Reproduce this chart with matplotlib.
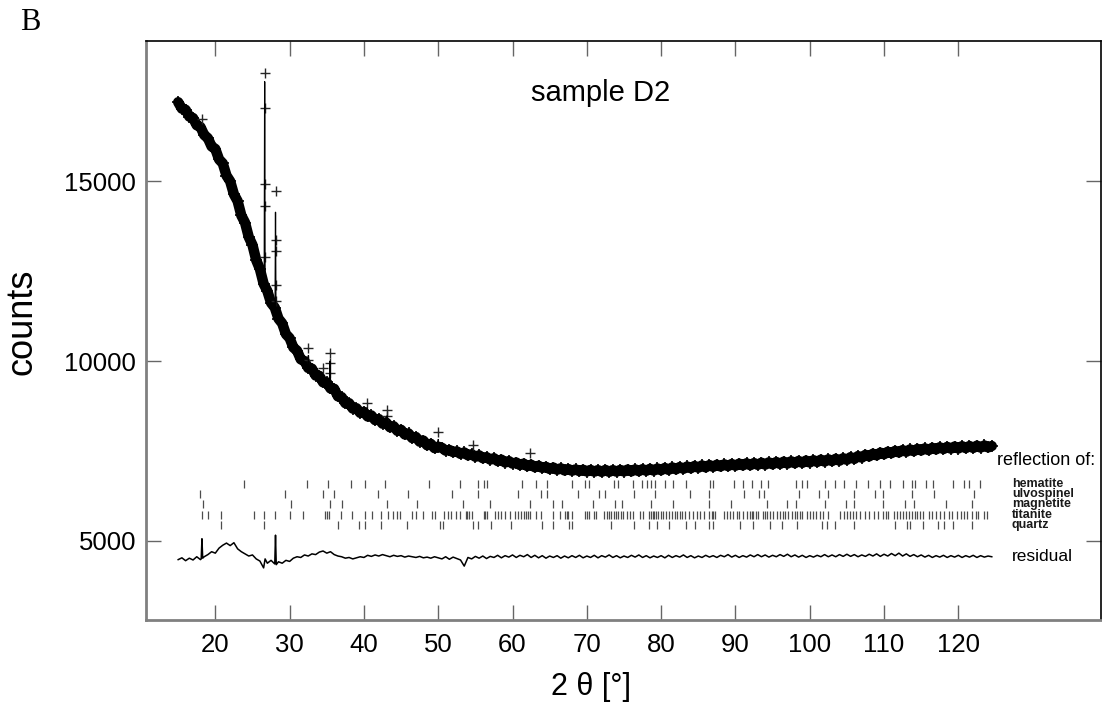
import numpy as np
import matplotlib
matplotlib.use("Agg")
import matplotlib.pyplot as plt

# ---------------- data ----------------
obs_2theta = [15.0, 15.5, 16.0, 16.5, 17.0, 17.5, 18.0, 18.5, 19.0, 19.5,
              20.0, 20.5, 21.0, 21.5, 22.0, 22.5, 23.0, 23.5, 24.0, 24.5,
              25.0, 25.5, 26.0, 26.5, 27.0, 27.5, 28.0, 28.5, 29.0, 29.5,
              30.0, 30.5, 31.0, 31.5, 32.0, 32.5, 33.0, 33.5, 34.0, 34.5,
              35.0, 35.5, 36.0, 36.5, 37.0, 37.5, 38.0, 38.5, 39.0, 39.5,
              40.0, 40.5, 41.0, 41.5, 42.0, 42.5, 43.0, 43.5, 44.0, 44.5,
              45.0, 45.5, 46.0, 46.5, 47.0, 47.5, 48.0, 48.5, 49.0, 49.5,
              50.0, 50.5, 51.0, 51.5, 52.0, 52.5, 53.0, 53.5, 54.0, 54.5,
              55.0, 55.5, 56.0, 56.5, 57.0, 57.5, 58.0, 58.5, 59.0, 59.5,
              60.0, 60.5, 61.0, 61.5, 62.0, 62.5, 63.0, 63.5, 64.0, 64.5,
              65.0, 65.5, 66.0, 66.5, 67.0, 67.5, 68.0, 68.5, 69.0, 69.5,
              70.0, 70.5, 71.0, 71.5, 72.0, 72.5, 73.0, 73.5, 74.0, 74.5,
              75.0, 75.5, 76.0, 76.5, 77.0, 77.5, 78.0, 78.5, 79.0, 79.5,
              80.0, 80.5, 81.0, 81.5, 82.0, 82.5, 83.0, 83.5, 84.0, 84.5,
              85.0, 85.5, 86.0, 86.5, 87.0, 87.5, 88.0, 88.5, 89.0, 89.5,
              90.0, 90.5, 91.0, 91.5, 92.0, 92.5, 93.0, 93.5, 94.0, 94.5,
              95.0, 95.5, 96.0, 96.5, 97.0, 97.5, 98.0, 98.5, 99.0, 99.5,
              100.0, 100.5, 101.0, 101.5, 102.0, 102.5, 103.0, 103.5, 104.0, 104.5,
              105.0, 105.5, 106.0, 106.5, 107.0, 107.5, 108.0, 108.5, 109.0, 109.5,
              110.0, 110.5, 111.0, 111.5, 112.0, 112.5, 113.0, 113.5, 114.0, 114.5,
              115.0, 115.5, 116.0, 116.5, 117.0, 117.5, 118.0, 118.5, 119.0, 119.5,
              120.0, 120.5, 121.0, 121.5, 122.0, 122.5, 123.0, 123.5, 124.0, 124.5]
obs_counts = [17200, 17020, 16990, 16800, 16760, 16560, 16510, 16290, 16200, 15970,
              15900, 15610, 15500, 15160, 15000, 14640, 14450, 14050, 13850, 13450,
              13230, 12810, 12560, 12150, 11950, 11620, 11490, 11180, 11050, 10750,
              10640, 10380, 10290, 10050, 10000, 9810, 9790, 9600, 9590, 9410,
              9410, 9240, 9230, 9020, 9000, 8830, 8830, 8680, 8690, 8560,
              8590, 8460, 8490, 8360, 8390, 8260, 8290, 8160, 8190, 8060,
              8090, 7960, 7990, 7860, 7890, 7760, 7790, 7660, 7700, 7580,
              7620, 7590, 7510, 7530, 7470, 7490, 7420, 7460, 7380, 7410,
              7340, 7380, 7300, 7330, 7260, 7300, 7220, 7260, 7180, 7220,
              7150, 7180, 7110, 7150, 7080, 7120, 7050, 7090, 7030, 7060,
              7000, 7040, 6980, 7020, 6960, 7000, 6950, 6990, 6940, 6980,
              6930, 6975, 6925, 6970, 6920, 6975, 6920, 6970, 6925, 6975,
              6930, 6985, 6935, 6990, 6940, 6995, 6950, 7005, 6955, 7015,
              6965, 7030, 6975, 7045, 6990, 7055, 7005, 7070, 7020, 7085,
              7035, 7100, 7045, 7110, 7060, 7120, 7070, 7130, 7080, 7140,
              7090, 7150, 7100, 7160, 7105, 7165, 7115, 7175, 7120, 7185,
              7130, 7195, 7140, 7205, 7150, 7215, 7160, 7225, 7170, 7235,
              7180, 7245, 7195, 7260, 7205, 7270, 7220, 7285, 7230, 7300,
              7255, 7330, 7280, 7360, 7315, 7395, 7350, 7425, 7380, 7455,
              7410, 7480, 7440, 7505, 7460, 7525, 7480, 7545, 7495, 7560,
              7515, 7575, 7525, 7590, 7545, 7605, 7555, 7615, 7565, 7625,
              7570, 7635, 7580, 7640, 7585, 7650, 7595, 7655, 7600, 7640]

# observed points standing out of the band (Bragg peaks)
peak_obs_2theta = [18.2, 26.64, 26.64, 26.65, 26.65, 26.66, 28.1, 28.1, 28.1,
                   28.11, 28.11, 32.5, 32.5, 34.5, 35.4, 35.4, 35.4, 40.4,
                   43.1, 43.1, 50.0, 54.7, 62.4]
peak_obs_counts = [16720, 18017, 17050, 14936, 14300, 12900, 14740, 13380, 13070,
                   12130, 11670, 10364, 10040, 9807, 10224, 9946, 9668, 8833,
                   8647, 8460, 8042, 7672, 7440]

# calculated profile at the peaks
peak_calc_2theta = [26.58, 26.64, 26.70, 28.04, 28.10, 28.16, 32.45, 32.52, 32.60,
                    35.35, 35.42, 35.50, 40.35, 40.42, 40.50, 43.05, 43.12, 43.20,
                    49.92, 50.00, 50.08]
peak_calc_counts = [12290, 17770, 12120, 11470, 14140, 11400, 9870, 10150, 9840,
                    9300, 10000, 9280, 8520, 8700, 8500, 8240, 8480, 8230,
                    7590, 7820, 7575]

resid_2theta = [15.0, 15.5, 16.0, 16.5, 17.0, 17.5, 18.0,
                18.1, 18.2, 18.3,
                18.5, 19.0, 19.5, 20.0, 20.5, 21.0, 21.5, 22.0, 22.5, 23.0,
                23.5, 24.0, 24.5, 25.0, 25.5, 26.0, 26.5,
                26.7, 27.0, 27.5, 28.0, 28.1, 28.2,
                28.5, 29.0, 29.5, 30.0, 30.5, 31.0, 31.5, 32.0, 32.5, 33.0,
                33.5, 34.0, 34.5, 35.0, 35.5, 36.0, 36.5, 37.0, 37.5, 38.0,
                38.5, 39.0, 39.5, 40.0, 40.5, 41.0, 41.5, 42.0, 42.5, 43.0,
                43.5, 44.0, 44.5, 45.0, 45.5, 46.0, 46.5, 47.0, 47.5, 48.0,
                48.5, 49.0, 49.5, 50.0,
                50.5, 51.0, 51.5, 52.0, 52.5, 53.0, 53.5, 54.0, 54.5, 55.0,
                55.5, 56.0, 56.5, 57.0, 57.5, 58.0, 58.5, 59.0, 59.5, 60.0,
                60.5, 61.0, 61.5, 62.0, 62.5, 63.0, 63.5, 64.0, 64.5, 65.0,
                65.5, 66.0, 66.5, 67.0, 67.5, 68.0, 68.5, 69.0, 69.5, 70.0,
                70.5, 71.0, 71.5, 72.0, 72.5, 73.0, 73.5, 74.0, 74.5, 75.0,
                75.5, 76.0, 76.5, 77.0, 77.5, 78.0, 78.5, 79.0, 79.5, 80.0,
                80.5, 81.0, 81.5, 82.0, 82.5, 83.0, 83.5, 84.0, 84.5, 85.0,
                85.5, 86.0, 86.5, 87.0, 87.5, 88.0, 88.5, 89.0, 89.5, 90.0,
                90.5, 91.0, 91.5, 92.0, 92.5, 93.0, 93.5, 94.0, 94.5, 95.0,
                95.5, 96.0, 96.5, 97.0, 97.5, 98.0, 98.5, 99.0, 99.5, 100.0,
                100.5, 101.0, 101.5, 102.0, 102.5, 103.0, 103.5, 104.0, 104.5, 105.0,
                105.5, 106.0, 106.5, 107.0, 107.5, 108.0, 108.5, 109.0, 109.5, 110.0,
                110.5, 111.0, 111.5, 112.0, 112.5, 113.0, 113.5, 114.0, 114.5, 115.0,
                115.5, 116.0, 116.5, 117.0, 117.5, 118.0, 118.5, 119.0, 119.5, 120.0,
                120.5, 121.0, 121.5, 122.0, 122.5, 123.0, 123.5, 124.0, 124.5]
resid_counts = [4480, 4530, 4450, 4520, 4470, 4560, 4480,
                4500, 5060, 4520,
                4560, 4620, 4700, 4660, 4800, 4880, 4940, 4870, 4950, 4780,
                4700, 4640, 4580, 4610, 4500, 4440, 4250,
                4500, 4380, 4460, 4360, 5160, 4340,
                4420, 4380, 4460, 4430, 4520, 4560, 4540, 4610, 4580, 4640,
                4620, 4690, 4720, 4660, 4700, 4620, 4580, 4560, 4520, 4540,
                4500, 4530, 4560, 4540, 4600, 4570, 4610, 4580, 4620, 4590,
                4560, 4600, 4570, 4590, 4550, 4580, 4560, 4540, 4570, 4530,
                4550, 4520, 4560, 4530,
                4500, 4560, 4490, 4550, 4510, 4470, 4300, 4540, 4500, 4570,
                4520, 4580, 4510, 4570, 4540, 4600, 4530, 4590, 4550, 4610,
                4540, 4600, 4560, 4620, 4540, 4600, 4530, 4590, 4520, 4580,
                4540, 4590, 4520, 4580, 4530, 4590, 4540, 4600, 4530, 4580,
                4540, 4600, 4530, 4590, 4550, 4610, 4540, 4590, 4530, 4580,
                4540, 4600, 4550, 4610, 4540, 4590, 4530, 4580, 4540, 4590,
                4530, 4600, 4540, 4590, 4550, 4610, 4540, 4590, 4530, 4580,
                4540, 4600, 4550, 4590, 4540, 4600, 4560, 4620, 4550, 4600,
                4540, 4590, 4550, 4610, 4560, 4620, 4560, 4610, 4550, 4600,
                4560, 4620, 4570, 4630, 4560, 4610, 4550, 4600, 4540, 4590,
                4550, 4600, 4560, 4620, 4560, 4610, 4560, 4620, 4570, 4630,
                4570, 4620, 4560, 4610, 4570, 4630, 4580, 4640, 4570, 4630,
                4580, 4650, 4590, 4660, 4580, 4640, 4570, 4620, 4560, 4610,
                4550, 4600, 4540, 4590, 4550, 4600, 4540, 4590, 4550, 4600,
                4540, 4590, 4550, 4600, 4540, 4590, 4550, 4580, 4560]

phase_names = ["hematite", "ulvospinel", "magnetite", "titanite", "quartz"]
hematite_2theta = [23.8, 32.4, 35.2, 38.3, 40.2, 42.8, 48.7, 52.9, 55.3, 56.2,
                   56.6, 61.3, 63.1, 64.7, 68.0, 69.8, 70.3, 73.6, 74.2, 76.2,
                   77.4, 78.1, 78.6, 79.2, 80.5, 81.6, 83.4, 86.6, 87.0, 89.8,
                   91.0, 92.2, 93.5, 94.4, 98.2, 98.9, 99.6, 102.1, 103.4, 104.6,
                   106.2, 107.9, 109.5, 110.8, 112.5, 113.7, 114.2, 115.7, 116.6,
                   119.3, 120.7, 121.5, 122.9]
ulvospinel_2theta = [17.9, 29.4, 34.5, 36.0, 41.9, 45.9, 51.9, 55.3, 60.8, 63.8,
                     64.7, 68.8, 71.6, 72.5, 76.3, 79.2, 83.9, 86.5, 91.1, 93.2,
                     93.8, 98.5, 101.2, 102.4, 106.0, 108.8, 109.8, 113.7, 116.7,
                     122.1]
magnetite_2theta = [18.4, 30.2, 35.4, 37.0, 43.1, 47.1, 53.3, 57.0, 62.3, 65.5,
                    66.6, 70.8, 73.8, 74.7, 78.7, 81.6, 86.4, 89.4, 94.2, 96.9,
                    98.2, 102.1, 104.9, 105.9, 109.9, 112.8, 114.0, 118.4, 121.8]
titanite_2theta = [18.2, 19.0, 20.8, 25.2, 26.5, 28.0, 30.1, 31.8, 34.7, 35.0,
                   35.3, 36.9, 38.4, 40.1, 41.1, 42.3, 43.3, 43.9, 44.4, 44.8,
                   46.5, 47.0, 47.9, 49.2, 49.5, 50.8, 51.3, 51.7, 52.4, 52.9,
                   53.7, 53.9, 54.1, 54.6, 56.1, 56.3, 56.6, 57.7, 58.1, 58.4,
                   59.0, 59.7, 60.3, 60.7, 61.1, 61.5, 61.8, 62.1, 62.4, 63.2,
                   63.8, 65.5, 66.4, 67.0, 67.3, 67.5, 68.0, 69.7, 70.0, 70.3,
                   70.9, 71.3, 72.3, 72.7, 73.0, 73.3, 73.6, 73.9, 74.2, 74.6,
                   74.9, 75.4, 75.8, 76.2, 77.1, 77.6, 78.3, 78.6, 78.9, 79.0,
                   79.3, 79.6, 80.0, 80.3, 80.7, 81.1, 81.4, 81.8, 82.1, 82.5,
                   82.8, 83.2, 83.7, 84.3, 84.8, 85.2, 85.8, 86.4, 86.8, 87.0,
                   87.3, 88.4, 88.8, 89.3, 89.7, 90.2, 90.5, 91.0, 91.5, 92.0,
                   92.2, 92.4, 92.8, 93.1, 93.7, 94.0, 94.3, 94.7, 95.1, 95.6,
                   96.0, 96.4, 96.7, 97.1, 97.6, 98.0, 98.3, 98.7, 99.0, 99.6,
                   100.0, 100.5, 100.9, 101.4, 101.8, 102.4, 104.1, 104.6, 105.0,
                   105.4, 105.8, 106.2, 106.8, 107.4, 108.0, 108.6, 109.2, 109.9,
                   110.3, 110.6, 111.3, 111.7, 112.2, 112.6, 113.0, 113.4, 113.7,
                   114.1, 114.4, 114.8, 115.3, 116.0, 116.4, 117.0, 117.5, 118.1,
                   118.7, 119.1, 119.8, 120.3, 120.7, 121.2, 121.8, 122.4, 122.7,
                   123.4, 123.8]
quartz_2theta = [20.8, 26.6, 36.5, 39.4, 40.1, 42.3, 45.8, 50.2, 50.7, 54.7,
                 55.3, 57.1, 59.8, 63.9, 65.5, 67.6, 68.0, 73.3, 76.3, 78.3,
                 79.5, 81.0, 83.4, 84.6, 86.5, 87.0, 90.6, 92.4, 94.6, 96.2,
                 98.3, 101.6, 102.3, 103.4, 106.0, 111.5, 113.1, 113.5, 115.3,
                 117.3, 118.1, 119.3, 121.8]
phase_reflections = [hematite_2theta, ulvospinel_2theta, magnetite_2theta,
                     titanite_2theta, quartz_2theta]

x_ticks = [20, 30, 40, 50, 60, 70, 80, 90, 100, 110, 120]
y_ticks = [5000, 10000, 15000]

# ---------------- figure ----------------
plt.rcParams['font.family'] = ['Liberation Sans', 'DejaVu Sans']
fig = plt.figure(figsize=(11.02, 7.03), dpi=100)
ax = fig.add_axes([146/1102, 83/703, 955/1102, 579/703])

# observed band + markers
ax.plot(obs_2theta, obs_counts, color='black', lw=7.5, solid_capstyle='round',
        solid_joinstyle='round', zorder=2)
ax.plot(obs_2theta, obs_counts, ls='none', marker='+', ms=8, mew=1.2,
        color='black', zorder=3)
ax.plot(peak_obs_2theta, peak_obs_counts, ls='none', marker='+', ms=7, mew=1.0,
        color='0.15', zorder=3)

# calculated profile (thin line)
calc_x = np.concatenate([obs_2theta, peak_calc_2theta])
calc_y = np.concatenate([obs_counts, peak_calc_counts])
order = np.argsort(calc_x, kind='stable')
ax.plot(calc_x[order], calc_y[order], color='black', lw=0.9, zorder=4)

# residual
ax.plot(resid_2theta, resid_counts, color='black', lw=1.1, zorder=3)

# reflection markers
row_centers = [6586, 6308, 6030, 5724, 5446]
half = 115
for refl, yc in zip(phase_reflections, row_centers):
    ax.vlines(refl, yc - half, yc + half, color='0.3', lw=0.9)

# labels at right side
for name, yc in zip(phase_names, row_centers):
    ax.text(127.2, yc, name, fontsize=9, fontweight='bold', va='center',
            ha='left', color='0.1')
ax.text(125.2, 7226, 'reflection of:', fontsize=13, va='center', ha='left')
ax.text(127.2, 4555, 'residual', fontsize=12.5, va='center', ha='left')
ax.text(71.8, 17450, 'sample D2', fontsize=21, va='center', ha='center')

ax.set_xlim(10.67, 139.2)
ax.set_ylim(2801, 18902)
ax.set_xticks(x_ticks)
ax.set_yticks(y_ticks)
ax.tick_params(axis='both', direction='in', length=11, width=1, color='0.4',
               top=True, right=True, labelsize=18.5)
ax.tick_params(axis='y', pad=7)
ax.tick_params(axis='x', pad=9)

for side in ['left', 'bottom']:
    ax.spines[side].set_color('0.5')
    ax.spines[side].set_linewidth(2)
for side in ['top', 'right']:
    ax.spines[side].set_color('black')
    ax.spines[side].set_linewidth(1.2)

ax.set_xlabel('2 θ [°]', fontsize=22, va='center')
ax.xaxis.set_label_coords(0.466, -0.116)
ax.set_ylabel('counts', fontsize=26, va='center')
ax.yaxis.set_label_coords(-0.13, 0.515)

fig.text(20/1102, 1 - 23/703, 'B', fontsize=22, family='Liberation Serif',
         va='center', ha='left')

fig.savefig('out.png', dpi=100)
